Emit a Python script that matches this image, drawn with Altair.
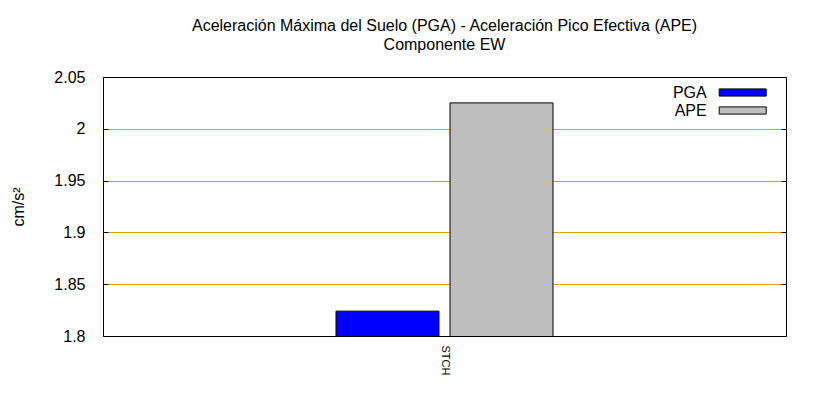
import altair as alt
import pandas as pd

# ---- data ----
stations = ["STCH", "STCH"]
series = ["PGA", "APE"]
values = [1.824, 2.025]
colors = ["#0000ff", "#bebebe"]
y_ticks = [1.8, 1.85, 1.9, 1.95, 2.0, 2.05]
title_lines = ["Aceleración Máxima del Suelo (PGA) -  Aceleración Pico Efectiva (APE)",
               "Componente EW"]

df = pd.DataFrame({"station": stations, "series": series, "value": values})

FONT = "Liberation Sans"
GRID = "#e5a000"

yscale = alt.Scale(domain=[1.8, 2.05], zero=False, nice=False)

bars = alt.Chart(df).mark_bar(stroke="black", strokeWidth=1, clip=True).encode(
    x=alt.X("station:N", title=None,
            scale=alt.Scale(paddingInner=0.0687, paddingOuter=1),
            axis=alt.Axis(labelAngle=90, ticks=False, tickSize=0, domain=False,
                          labelPadding=9, labelFontSize=11, labelFont=FONT,
                          labelColor="black", grid=False)),
    xOffset=alt.XOffset("series:N", sort=series,
                        scale=alt.Scale(paddingInner=0.0965, paddingOuter=0)),
    y=alt.Y("value:Q", title="cm/s²", scale=yscale,
            axis=alt.Axis(values=y_ticks, format="~g", offset=-5, tickSize=5,
                          tickColor="black", domain=False, labelPadding=18,
                          labelFont=FONT, labelFontSize=16, labelColor="black",
                          titleFont=FONT, titleFontSize=16, titleFontWeight="normal",
                          titleColor="black", titlePadding=27,
                          grid=True, gridColor=GRID, gridWidth=1,
                          gridOpacity=alt.condition("datum.value < 1.801 || datum.value > 2.049",
                                                    alt.value(0), alt.value(1)))),
    color=alt.Color("series:N", sort=series,
                    scale=alt.Scale(domain=series, range=colors),
                    legend=alt.Legend(title=None, orient="none", legendX=562.7, legendY=7.5,
                                      padding=0, symbolType="M9.1,-0.72H18.5V0.72H9.1Z",
                                      symbolSize=100, symbolStrokeColor="black",
                                      symbolStrokeWidth=1, labelAlign="right",
                                      labelOffset=25, labelFont=FONT, labelFontSize=16,
                                      labelColor="black", rowPadding=2)),
)

right_ticks = alt.Chart(df).mark_point(opacity=0).encode(
    y=alt.Y("value:Q", scale=yscale,
            axis=alt.Axis(orient="right", values=y_ticks, offset=-5, tickSize=5,
                          tickColor="black", domain=False, labels=False, grid=False,
                          title=None)),
)

chart = alt.layer(bars, right_ticks).resolve_scale(y="shared").resolve_axis(y="independent").properties(
    width=683, height=259,
    autosize=alt.AutoSizeParams(type="none"),
    padding={"left": 95, "top": 69, "right": 26, "bottom": 56},
    title=alt.Title(title_lines, font=FONT, fontSize=16, fontWeight="normal",
                    color="black", anchor="middle", offset=16, lineHeight=19),
).configure_view(stroke="black", strokeWidth=1)

chart.save("out.html", embed_options={"renderer": "svg", "actions": False})
